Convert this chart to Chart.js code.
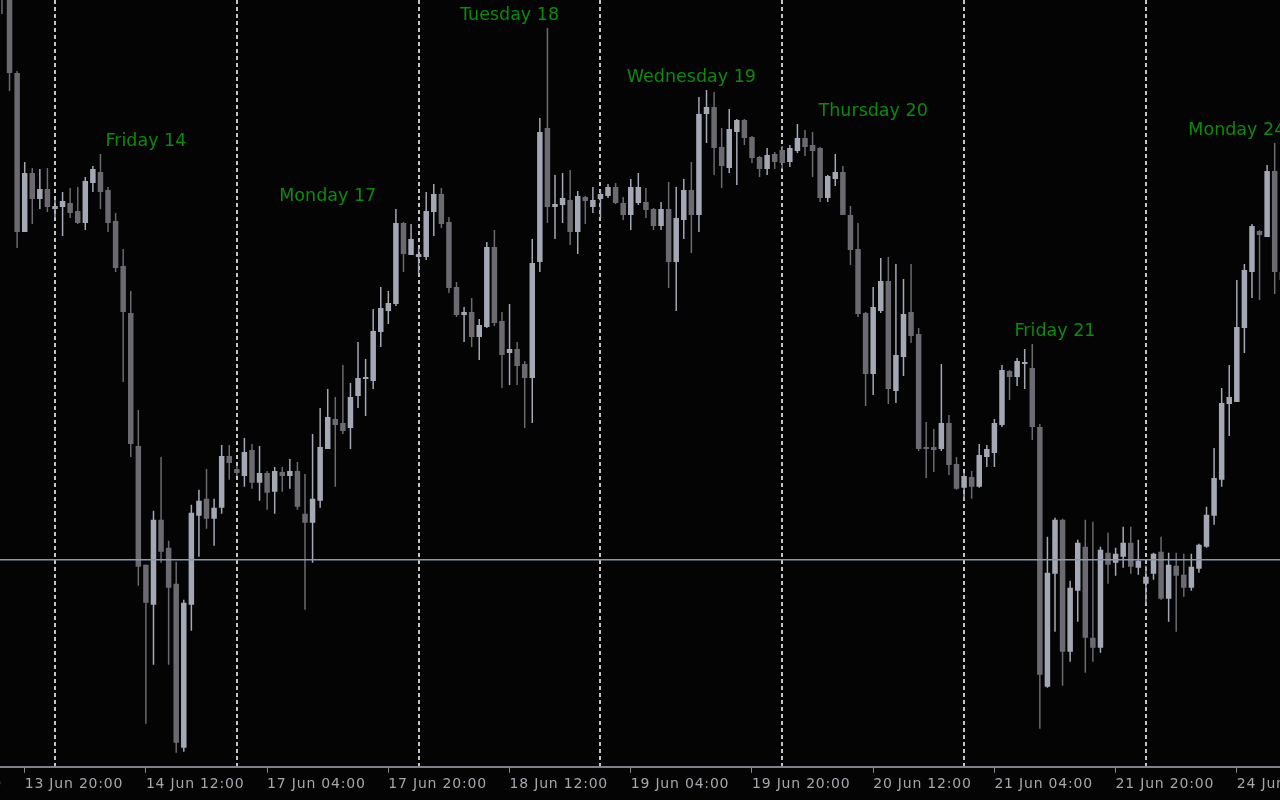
<!DOCTYPE html>
<html><head><meta charset="utf-8">
<script src="https://cdn.jsdelivr.net/npm/chart.js@4.4.1/dist/chart.umd.min.js"></script>
<style>html,body{margin:0;padding:0;background:#040405;overflow:hidden}canvas{display:block}</style>
</head><body>
<canvas id="c" width="1280" height="800"></canvas>
<script>
// H1 candles, hour index 0 = 13 Jun 18:00 (trading hours only, weekend skipped)
const firstHour = -1;
const opens = [
798,788,695,536,595,569,579,559,561,565,
557,545,585,596,578,547,502,455,322,203,
163,248,220,184,20,163,252,269,249,260,
312,299,292,318,285,295,276,296,292,297,
254,245,267,319,349,345,340,372,389,387,
436,457,464,545,513,511,511,556,574,546,
481,453,456,431,441,521,447,415,419,404,
390,506,640,561,563,568,536,571,561,569,
572,581,565,553,565,566,559,542,559,506,
548,578,553,654,661,621,600,636,648,631,
611,599,614,618,606,617,630,623,620,570,
589,596,553,519,455,394,457,487,377,411,
456,434,321,321,319,345,304,280,291,281,
311,315,343,397,391,404,400,341,81,194,
248,116,177,221,130,120,215,205,211,225,
200,184,194,216,169,202,193,180,199,221,
252,288,364,366,440,496,537,531,597,496];
const highs = [
818,808,697,606,600,599,600,568,576,580,
581,591,602,614,581,555,519,477,358,203,
257,311,227,206,168,263,278,299,269,323,
323,302,330,324,322,297,301,301,309,306,
294,334,360,379,371,403,385,426,409,459,
481,477,559,546,544,521,576,584,580,551,
486,461,470,449,526,538,456,464,426,407,
529,650,740,593,595,598,577,572,581,578,
584,585,571,589,595,580,560,566,586,581,
589,606,671,678,676,640,659,649,649,632,
612,620,616,622,623,644,638,636,621,593,
614,602,562,545,456,481,510,511,504,489,
504,440,346,339,404,353,311,295,297,324,
323,349,403,398,410,419,424,344,231,250,
249,187,228,248,246,221,235,220,241,241,
228,202,215,231,215,215,214,214,224,261,
320,380,403,488,504,544,538,603,625,503];
const lows = [
754,677,520,536,544,559,556,550,532,550,
544,538,576,559,536,496,386,311,182,44,
103,205,103,15,16,137,211,239,222,254,
288,292,281,279,267,258,254,276,279,258,
158,205,260,319,281,334,319,360,352,379,
421,444,462,496,513,493,508,532,540,475,
451,426,421,408,440,442,380,383,383,340,
345,496,545,529,545,523,514,544,555,550,
570,564,548,538,563,550,538,538,480,457,
529,515,536,625,593,580,595,583,623,605,
591,593,599,599,601,615,612,591,566,566,
582,553,503,451,362,373,455,364,365,392,
425,317,290,296,317,293,278,268,269,280,
301,301,341,368,382,379,328,39,80,136,
82,106,146,95,106,115,184,192,200,194,
193,163,188,168,146,136,171,177,195,220,
243,281,332,366,415,470,468,531,474,478];
const closes = [
778,695,536,595,569,579,561,562,567,555,
545,587,599,576,545,500,456,324,201,165,
248,216,180,25,165,255,267,249,260,312,
305,295,316,285,295,275,297,292,297,261,
245,269,321,351,343,337,371,390,391,437,
460,465,545,514,529,514,557,574,544,480,
453,456,431,443,521,445,413,419,402,390,
505,636,561,564,570,536,572,567,568,574,
581,565,553,581,581,558,542,559,506,550,
578,553,654,661,620,602,639,648,630,610,
599,613,606,605,620,630,621,617,570,592,
596,553,518,454,394,461,487,379,413,454,
432,319,319,318,345,303,279,292,281,313,
319,345,398,391,407,406,341,93,195,248,
116,180,225,130,120,218,203,214,225,201,
207,191,214,169,203,192,180,201,223,253,
290,365,371,441,498,542,533,597,496,488];

const tickHours = [-14,2,18,34,50,66,82,98,114,130,146,162];
const tickLabels = ['13 Jun 04:00','13 Jun 20:00','14 Jun 12:00','17 Jun 04:00','17 Jun 20:00','18 Jun 12:00','19 Jun 04:00','19 Jun 20:00','20 Jun 12:00','21 Jun 04:00','21 Jun 20:00','24 Jun 12:00'];
const dayStarts = [6,30,54,78,102,126,150];
const dayNames = ['Friday 14','Monday 17','Tuesday 18','Wednesday 19','Thursday 20','Friday 21','Monday 24'];
const levelValue = 208;

const hours = opens.map((_, i) => firstHour + i);
const BULL = '#a4a8b5', BEAR = '#6a6a70';
const candleColors = opens.map((o, i) => closes[i] >= o ? BULL : BEAR);

const bgPlugin = {
  id: 'bg',
  beforeDraw(chart) {
    const ctx = chart.ctx;
    ctx.save();
    ctx.fillStyle = '#040405';
    ctx.fillRect(0, 0, chart.width, chart.height);
    ctx.restore();
    // wide spacing for the time-axis labels
    if ('letterSpacing' in ctx) ctx.letterSpacing = '0.8px';
  }
};

const dayLabelPlugin = {
  id: 'dayLabels',
  afterDatasetsDraw(chart) {
    const {ctx, scales: {x, y}} = chart;
    ctx.save();
    if ('letterSpacing' in ctx) ctx.letterSpacing = '0px';
    ctx.font = '17.5px "DejaVu Sans"';
    ctx.fillStyle = '#0a8c0a';
    ctx.textAlign = 'center';
    ctx.textBaseline = 'alphabetic';
    dayNames.forEach((name, d) => {
      let hi = -Infinity;
      hours.forEach((h, i) => {
        if (h >= dayStarts[d] && h < dayStarts[d] + 24) hi = Math.max(hi, highs[i]);
      });
      ctx.fillText(name, x.getPixelForValue(dayStarts[d] + 12), y.getPixelForValue(hi) - 8);
    });
    ctx.restore();
  }
};

new Chart(document.getElementById('c'), {
  type: 'bar',
  data: {
    datasets: [
      {
        type: 'line',
        data: [{x: -5, y: levelValue}, {x: 175, y: levelValue}],
        borderColor: '#829cb2',
        borderWidth: 1.5,
        pointRadius: 0,
        order: 0
      },
      {
        label: 'body',
        data: hours.map((h, i) => ({x: h, y: [opens[i], closes[i]]})),
        backgroundColor: candleColors,
        barThickness: 5.5,
        minBarLength: 1.5,
        inflateAmount: 0,
        grouped: false,
        order: 1
      },
      {
        label: 'wick',
        data: hours.map((h, i) => ({x: h, y: [lows[i], highs[i]]})),
        backgroundColor: candleColors,
        barThickness: 1.5,
        inflateAmount: 0,
        grouped: false,
        order: 2
      }
    ]
  },
  options: {
    responsive: false,
    animation: false,
    devicePixelRatio: 1,
    layout: {padding: {left: 0, right: 0, top: 0, bottom: 4.4}},
    plugins: {legend: {display: false}, tooltip: {enabled: false}},
    scales: {
      x: {
        type: 'linear', position: 'bottom', min: -1.26, max: 167.7, offset: false, bounds: 'data',
        afterBuildTicks(s) { s.ticks = tickHours.map(v => ({value: v})); },
        afterFit(s) { s.paddingLeft = 0; s.paddingRight = 0; },
        ticks: {
          autoSkip: false, maxRotation: 0, minRotation: 0, align: 'start', padding: 3,
          color: '#a6a6ae', font: {family: 'DejaVu Sans', size: 14},
          callback(v) { const i = tickHours.indexOf(v); return i >= 0 ? tickLabels[i] : ''; }
        },
        grid: {display: true, drawOnChartArea: false, drawTicks: true, tickLength: 6, tickColor: '#8a8a92', tickWidth: 1, offset: false},
        border: {display: true, color: '#80808a', width: 2}
      },
      xDay: {
        type: 'linear', position: 'bottom', min: -1.26, max: 167.7, offset: false, bounds: 'data',
        afterBuildTicks(s) { s.ticks = dayStarts.map(v => ({value: v})); },
        ticks: {display: false},
        grid: {display: true, drawOnChartArea: true, drawTicks: false, color: '#c4c4c4', lineWidth: 2, offset: false},
        border: {display: false, dash: [4, 3]}
      },
      y: {type: 'linear', display: false, min: 1, max: 768}
    }
  },
  plugins: [bgPlugin, dayLabelPlugin]
});
</script>
</body></html>
